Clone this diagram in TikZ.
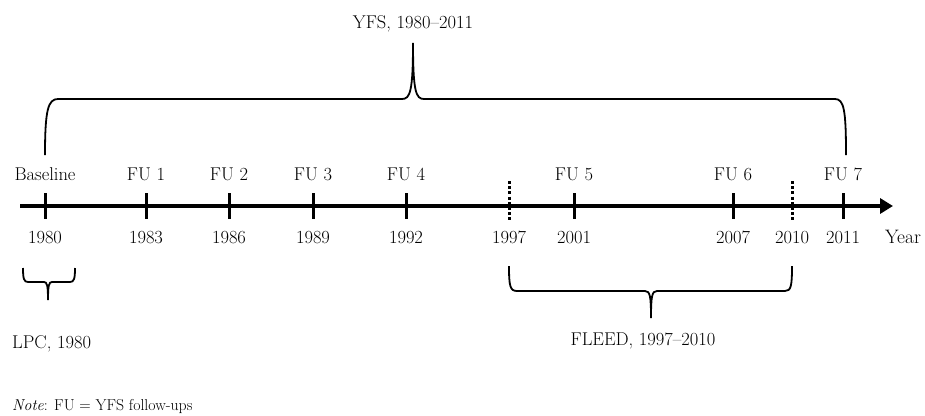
\documentclass[tikz,border=0pt]{standalone}
\usepackage{fontspec}
\setmainfont{Latin Modern Roman}
\usetikzlibrary{arrows.meta}
\begin{document}
\begin{tikzpicture}[x=1pt,y=-1pt,
  lbl/.style={inner sep=0pt,anchor=base,font=\fontsize{18.5}{21}\selectfont},
  yearlbl/.style={inner sep=0pt,anchor=base,font=\fontsize{19.5}{22}\selectfont},
  notelbl/.style={inner sep=0pt,anchor=base west,font=\fontsize{15.8}{18}\selectfont},
  tickline/.style={line width=3pt},
  dottick/.style={line width=3pt,dash pattern=on 3pt off 2.2pt},
  axisline/.style={line width=4pt,-{Triangle[length=13pt,width=15pt]}},
  bracel/.style={line width=1.8pt}]
\useasboundingbox (0,0) rectangle (925,415);
% axis
\coordinate (a0) at (20,206);
\coordinate (a1) at (893,206);
\draw[axisline] (a0) -- (a1);
% ticks and labels
\foreach \nm/\x/\top/\yr in {t0/45/Baseline/1980, t1/146/FU 1/1983, t2/229/FU 2/1986, t3/313/FU 3/1989, t4/406/FU 4/1992, t5/574/FU 5/2001, t6/733/FU 6/2007, t7/843/FU 7/2011}{
  \coordinate (\nm a) at (\x,193);
  \coordinate (\nm b) at (\x,219);
  \draw[tickline] (\nm a) -- (\nm b);
  \node[lbl] (\nm top) at (\x,180) {\top};
  \node[lbl] (\nm yr) at (\x,243) {\yr};
}
\coordinate (d1a) at (509,181); \coordinate (d1b) at (509,221);
\coordinate (d2a) at (792,181); \coordinate (d2b) at (792,221);
\draw[dottick] (d1a) -- (d1b);
\draw[dottick] (d2a) -- (d2b);
\node[lbl] (y1997) at (509,243) {1997};
\node[lbl] (y2010) at (792,243) {2010};
\node[yearlbl] (year) at (903,243) {Year};
% YFS brace
\coordinate (ysl) at (45,155);
\coordinate (ysr) at (846,155);
\coordinate (ytip) at (413,43);
\draw[bracel] (ysl) .. controls (45,110) and (48,99) .. (58,99) -- (402,99)
  .. controls (410,99) and (413,92) .. (ytip)
  .. controls (413,92) and (416,99) .. (424,99) -- (835,99)
  .. controls (844,99) and (846,110) .. (ysr);
\node[lbl] (yfs) at (413,28) {YFS, 1980--2011};
% LPC brace
\coordinate (lsl) at (23,268);
\coordinate (lsr) at (75,268);
\coordinate (ltip) at (48,300);
\draw[bracel] (lsl) .. controls (23,279) and (24,282) .. (28,282) -- (44,282)
  .. controls (47,282) and (48,285) .. (ltip)
  .. controls (48,285) and (49,282) .. (52,282) -- (70,282)
  .. controls (74,282) and (75,279) .. (lsr);
\node[lbl,anchor=base west] (lpc) at (12,348) {LPC, 1980};
% FLEED brace
\coordinate (fsl) at (509,266);
\coordinate (fsr) at (792,266);
\coordinate (ftip) at (651,318);
\draw[bracel] (fsl) .. controls (509,286) and (510,291) .. (517,291) -- (645,291)
  .. controls (650,291) and (651,296) .. (ftip)
  .. controls (651,296) and (652,291) .. (657,291) -- (785,291)
  .. controls (791,291) and (792,286) .. (fsr);
\node[lbl] (fleed) at (643,345) {FLEED, 1997--2010};
% note
\node[notelbl] (note) at (12,410) {\textit{Note}: FU = YFS follow-ups};
\end{tikzpicture}
\end{document}
